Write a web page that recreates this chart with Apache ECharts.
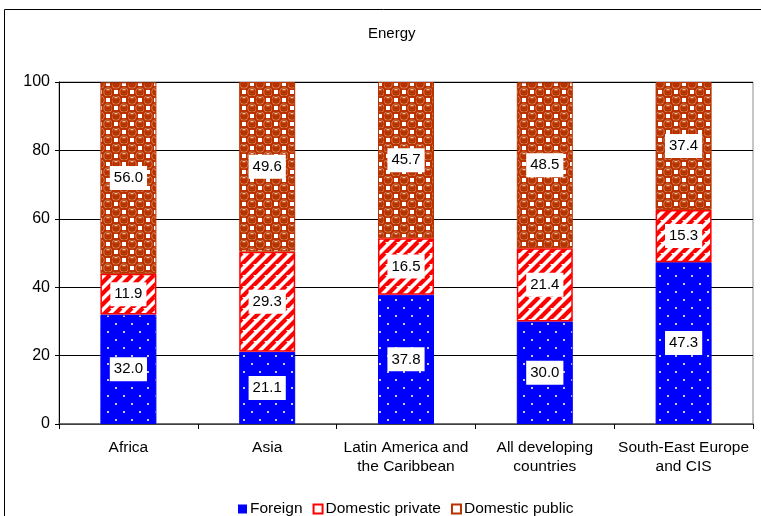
<!DOCTYPE html>
<html>
<head>
<meta charset="utf-8">
<script src="https://cdn.jsdelivr.net/npm/echarts@6/dist/echarts.min.js"></script>
<style>
  html, body { margin: 0; padding: 0; background: #fff; }
  #chart { width: 761px; height: 516px; }
</style>
</head>
<body>
<div id="chart"></div>
<script>
// Energy: share of investment by source, per region (%)
const categories = ['Africa', 'Asia', 'Latin America and\nthe Caribbean', 'All developing\ncountries', 'South-East Europe\nand CIS'];
const foreign = [32.0, 21.1, 37.8, 30.0, 47.3];
const domesticPrivate = [11.9, 29.3, 16.5, 21.4, 15.3];
const domesticPublic = [56.0, 49.6, 45.7, 48.5, 37.4];
const yTicks = [0, 20, 40, 60, 80, 100];

const BLUE = '#0000FF';
const RED = '#FF0000';
const BROWN = '#B83300';
const FONT = '"Liberation Sans", Arial, sans-serif';

function makeTile(w, h, draw) {
  const c = document.createElement('canvas');
  c.width = w; c.height = h;
  draw(c.getContext('2d'));
  return c;
}

// blue with staggered white dots
const dotsTile = makeTile(16, 16, g => {
  g.fillStyle = BLUE; g.fillRect(0, 0, 16, 16);
  g.fillStyle = '#C8C8FF';
  g.fillRect(3, 3, 2, 2);
  g.fillRect(11, 11, 2, 2);
});

// red diagonal stripes on white
const stripeTile = makeTile(11, 11, g => {
  g.fillStyle = '#fff'; g.fillRect(0, 0, 11, 11);
  g.strokeStyle = RED; g.lineWidth = 4.2;
  for (let k = -11; k <= 22; k += 11) {
    g.beginPath(); g.moveTo(k - 11, 22); g.lineTo(k + 11, 0); g.stroke();
  }
});

// brown spheres alternating with white squares
const sphereTile = makeTile(16, 16, g => {
  g.fillStyle = BROWN; g.fillRect(0, 0, 16, 16);
  g.fillStyle = '#fff';
  g.fillRect(10, 2, 4, 4);
  g.fillRect(2, 10, 4, 4);
  [[4, 4], [12, 12]].forEach(([cx, cy]) => {
    g.fillStyle = '#D98A66';
    g.beginPath(); g.arc(cx, cy, 4.6, 0, Math.PI * 2); g.fill();
    g.fillStyle = BROWN;
    g.beginPath(); g.arc(cx, cy, 3.8, 0, Math.PI * 2); g.fill();
    g.fillStyle = '#F0C4B0';
    g.fillRect(cx - 1.5, cy - 3, 3, 1.3);
  });
});

const pattern = t => ({ image: t, repeat: 'repeat' });

const labelStyle = {
  show: true,
  position: 'inside',
  formatter: p => p.value.toFixed(1),
  backgroundColor: '#fff',
  color: '#000',
  fontSize: 15,
  fontFamily: FONT,
  padding: [5, 4, 4, 4]
};

const chart = echarts.init(document.getElementById('chart'), null, { renderer: 'canvas' });
chart.setOption({
  animation: false,
  backgroundColor: '#fff',
  title: {
    text: 'Energy',
    left: 363,
    top: 21,
    textStyle: { fontSize: 15, fontWeight: 'normal', color: '#000', fontFamily: FONT }
  },
  graphic: [{
    type: 'rect',
    shape: { x: 4.5, y: 9.5, width: 800, height: 600 },
    style: { fill: 'none', stroke: '#000', lineWidth: 1 },
    silent: true
  }],
  legend: {
    left: 233,
    top: 496,
    itemWidth: 9,
    itemHeight: 9,
    itemGap: 10,
    icon: 'rect',
    textStyle: { fontSize: 15.5, color: '#000', fontFamily: FONT, padding: [0, 0, 0, -2] },
    data: [
      { name: 'Foreign', itemStyle: { color: BLUE, borderWidth: 0 } },
      { name: 'Domestic private', itemStyle: { color: '#fff', borderColor: RED, borderWidth: 2 } },
      { name: 'Domestic public', itemStyle: { color: '#fff', borderColor: BROWN, borderWidth: 2 } }
    ]
  },
  grid: {
    left: 59, right: 8, top: 82, bottom: 92,
    show: true, borderColor: '#8C8C8C', borderWidth: 1, backgroundColor: 'transparent'
  },
  xAxis: {
    type: 'category',
    data: categories,
    axisLine: { lineStyle: { color: '#555', width: 1.5 } },
    axisTick: { show: true, alignWithLabel: false, length: 5, lineStyle: { color: '#000' } },
    axisLabel: { color: '#000', fontSize: 15.5, fontFamily: FONT, margin: 14, lineHeight: 19, interval: 0 }
  },
  yAxis: {
    type: 'value',
    min: yTicks[0],
    max: yTicks[yTicks.length - 1],
    interval: yTicks[1] - yTicks[0],
    axisLine: { show: true, lineStyle: { color: '#000' } },
    axisTick: { show: true, length: 4, lineStyle: { color: '#000' } },
    axisLabel: { color: '#000', fontSize: 16, fontFamily: FONT, margin: 9 },
    splitLine: { show: true, lineStyle: { color: '#000', width: 1 } }
  },
  series: [
    {
      name: 'Foreign', type: 'bar', stack: 'total', barWidth: 56,
      data: foreign,
      itemStyle: { color: pattern(dotsTile), borderColor: BLUE, borderWidth: 1 },
      label: labelStyle
    },
    {
      name: 'Domestic private', type: 'bar', stack: 'total', barWidth: 56,
      data: domesticPrivate,
      itemStyle: { color: pattern(stripeTile), borderColor: RED, borderWidth: 1.5 },
      label: labelStyle
    },
    {
      name: 'Domestic public', type: 'bar', stack: 'total', barWidth: 56,
      data: domesticPublic,
      itemStyle: { color: pattern(sphereTile), borderColor: BROWN, borderWidth: 1 },
      label: labelStyle
    }
  ]
});
</script>
</body>
</html>
